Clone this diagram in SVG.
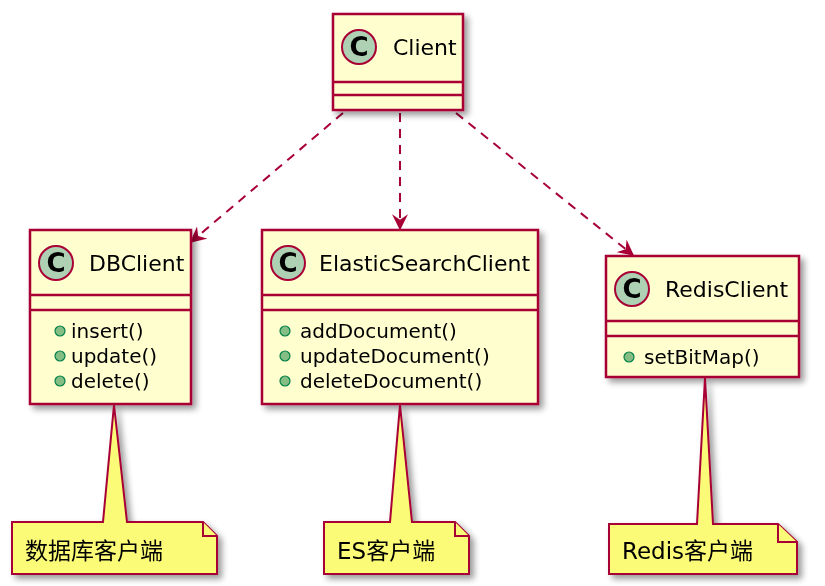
<svg xmlns="http://www.w3.org/2000/svg" width="825" height="586" viewBox="0 0 825 586">
<defs>
<filter id="sh" x="-10%" y="-10%" width="130%" height="130%"><feGaussianBlur in="SourceAlpha" stdDeviation="3"/><feOffset dx="4" dy="4"/><feComponentTransfer><feFuncA type="linear" slope="0.4"/></feComponentTransfer><feMerge><feMergeNode/><feMergeNode in="SourceGraphic"/></feMerge></filter>
<marker id="ar" viewBox="0 0 12 12" refX="11" refY="6" markerWidth="16" markerHeight="16" markerUnits="userSpaceOnUse" orient="auto"><path d="M0,0 L12,6 L0,12 L4,6 Z" fill="#A80036"/></marker>
</defs>
<style>
.box{fill:#FEFECE;stroke:#A80036;stroke-width:2.5}
.ln{stroke:#A80036;stroke-width:2.5}
.ci{fill:#ADD1B2;stroke:#A80036;stroke-width:2}
.c{font-family:"DejaVu Sans",sans-serif;font-weight:bold;font-size:26px;fill:#000}
.t{font-family:"DejaVu Sans",sans-serif;font-size:22px;fill:#000}
.m{font-family:"DejaVu Sans",sans-serif;font-size:20px;fill:#000}
.dot{fill:#84BE84;stroke:#038048;stroke-width:1.2}
.note{fill:#FBFB77;stroke:#A80036;stroke-width:2}
.nt{font-family:"DejaVu Sans","Noto Sans CJK SC",sans-serif;font-size:23px;fill:#000}
.dash{stroke:#A80036;stroke-width:2;stroke-dasharray:9,7;fill:none}
</style>
<g id="connectors">
<line class="dash" x1="343" y1="113" x2="191" y2="242" marker-end="url(#ar)"/>
<line class="dash" x1="400" y1="113" x2="400" y2="229" marker-end="url(#ar)"/>
<line class="dash" x1="456" y1="113" x2="633" y2="255" marker-end="url(#ar)"/>
</g>
<g id="Client" filter="url(#sh)">
<rect class="box" x="333" y="14" width="130" height="96"/>
<line class="ln" x1="333" y1="82" x2="463" y2="82"/><line class="ln" x1="333" y1="95" x2="463" y2="95"/>
<circle class="ci" cx="359" cy="47" r="17"/><text class="c" x="359" y="56" text-anchor="middle">C</text>
<text class="t" x="393" y="55">Client</text>
</g>
<g id="DBClient" filter="url(#sh)">
<rect class="box" x="30" y="230" width="161" height="174"/>
<line class="ln" x1="30" y1="295" x2="191" y2="295"/><line class="ln" x1="30" y1="310" x2="191" y2="310"/>
<circle class="ci" cx="56" cy="263" r="17"/><text class="c" x="56" y="272" text-anchor="middle">C</text>
<text class="t" x="89" y="271">DBClient</text>
<circle class="dot" cx="60" cy="331" r="5"/><text class="m" x="71" y="338">insert()</text>
<circle class="dot" cx="60" cy="356" r="5"/><text class="m" x="71" y="363">update()</text>
<circle class="dot" cx="60" cy="381" r="5"/><text class="m" x="71" y="388">delete()</text>
</g>
<g id="ElasticSearchClient" filter="url(#sh)">
<rect class="box" x="262" y="230" width="276" height="174"/>
<line class="ln" x1="262" y1="295" x2="538" y2="295"/><line class="ln" x1="262" y1="310" x2="538" y2="310"/>
<circle class="ci" cx="288" cy="263" r="17"/><text class="c" x="288" y="272" text-anchor="middle">C</text>
<text class="t" x="319" y="271">ElasticSearchClient</text>
<circle class="dot" cx="285" cy="331" r="5"/><text class="m" x="300" y="338">addDocument()</text>
<circle class="dot" cx="285" cy="356" r="5"/><text class="m" x="300" y="363">updateDocument()</text>
<circle class="dot" cx="285" cy="381" r="5"/><text class="m" x="300" y="388">deleteDocument()</text>
</g>
<g id="RedisClient" filter="url(#sh)">
<rect class="box" x="606" y="256" width="193" height="121"/>
<line class="ln" x1="606" y1="321" x2="799" y2="321"/><line class="ln" x1="606" y1="336" x2="799" y2="336"/>
<circle class="ci" cx="632" cy="289" r="17"/><text class="c" x="632" y="298" text-anchor="middle">C</text>
<text class="t" x="665" y="297">RedisClient</text>
<circle class="dot" cx="629" cy="357" r="5"/><text class="m" x="644" y="364">setBitMap()</text>
</g>
<g id="note1" filter="url(#sh)">
<path class="note" d="M12,522 L103,522 L114,405 L127,522 L203,522 L217,536 L217,574 L12,574 Z"/>
<path class="note" d="M203,522 L203,536 L217,536" fill="none"/>
<text class="nt" x="25" y="559">数据库客户端</text>
</g>
<g id="note2" filter="url(#sh)">
<path class="note" d="M324,522 L390,522 L400,405 L412,522 L455,522 L469,536 L469,574 L324,574 Z"/>
<path class="note" d="M455,522 L455,536 L469,536" fill="none"/>
<text class="nt" x="337" y="559">ES客户端</text>
</g>
<g id="note3" filter="url(#sh)">
<path class="note" d="M609,524 L697,524 L705,378 L713,524 L778,524 L797,542 L797,574 L609,574 Z"/>
<path class="note" d="M778,524 L778,542 L797,542" fill="none"/>
<text class="nt" x="622" y="559">Redis客户端</text>
</g>
</svg>
